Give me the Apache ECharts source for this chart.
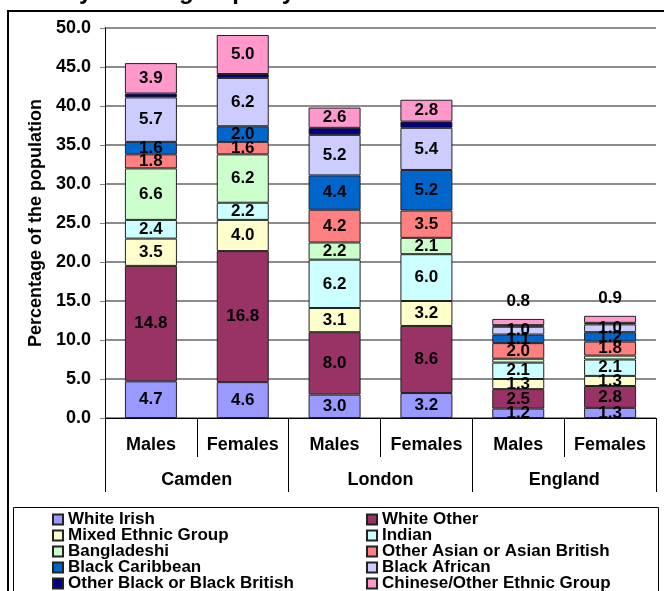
<!DOCTYPE html>
<html>
<head>
<meta charset="utf-8">
<title>Minority Ethnic groups by sex</title>
<script src="https://cdn.jsdelivr.net/npm/echarts@6/dist/echarts.min.js"></script>
<style>
html,body{margin:0;padding:0;background:#fff;}
#main{width:664px;height:591px;}
</style>
</head>
<body>
<div id="main"></div>
<script>
// categories
var sexes = ['Males', 'Females', 'Males', 'Females', 'Males', 'Females'];
var areas = ['Camden', 'London', 'England'];
var yTicks = {min: 0, max: 50, step: 5};

// series names, in stacking order
var groups = ['White Irish', 'White Other', 'Mixed Ethnic Group', 'Indian', 'Bangladeshi',
  'Other Asian or Asian British', 'Black Caribbean', 'Black African',
  'Other Black or Black British', 'Chinese/Other Ethnic Group'];

// values (% of population) - Camden M, Camden F, London M, London F, England M, England F
var whiteIrish   = [4.7, 4.6, 3.0, 3.2, 1.2, 1.3];
var whiteOther   = [14.8, 16.8, 8.0, 8.6, 2.5, 2.8];
var mixed        = [3.5, 4.0, 3.1, 3.2, 1.3, 1.3];
var indian       = [2.4, 2.2, 6.2, 6.0, 2.1, 2.1];
var bangladeshi  = [6.6, 6.2, 2.2, 2.1, 0.5, 0.5];
var otherAsian   = [1.8, 1.6, 4.2, 3.5, 2.0, 1.8];
var blackCarib   = [1.6, 2.0, 4.4, 5.2, 1.1, 1.2];
var blackAfrican = [5.7, 6.2, 5.2, 5.4, 1.0, 1.0];
var otherBlack   = [0.5, 0.5, 0.9, 0.8, 0.2, 0.2];
var chineseOther = [3.9, 5.0, 2.6, 2.8, 0.8, 0.9];

var values = [whiteIrish, whiteOther, mixed, indian, bangladeshi, otherAsian,
  blackCarib, blackAfrican, otherBlack, chineseOther];

var colors = ['#9999FF', '#993366', '#FFFFCC', '#CCFFFF', '#CCFFCC',
  '#FF8080', '#0066CC', '#CCCCFF', '#000080', '#FF99CC'];

var font = 'Arial, "Liberation Sans", sans-serif';

var series = [];
for (var i = 0; i < groups.length; i++) {
  var d = values[i].slice();
  if (i == 9) {
    // England labels sit above the bars
    d[4] = {value: d[4], label: {position: 'top', distance: 9}};
    d[5] = {value: d[5], label: {position: 'top', distance: 9}};
  }
  series.push({
    name: groups[i],
    type: 'bar',
    stack: 'all',
    barWidth: 52,
    data: d,
    itemStyle: {color: colors[i], borderColor: '#222', borderWidth: 1},
    label: {
      show: true,
      color: '#000',
      fontSize: 17,
      fontWeight: 'bold',
      fontFamily: font,
      formatter: function (p) {
        if (p.seriesName == 'Other Black or Black British' || p.value < 0.6) return '';
        return p.value.toFixed(1);
      }
    },
    emphasis: {disabled: true}
  });
}

var legendText = {fontSize: 17, fontWeight: 'bold', fontFamily: font, color: '#000', lineHeight: 16};

var option = {
  animation: false,
  title: {
    text: 'Minority Ethnic groups by sex',
    left: -1, top: -20, padding: 0,
    textStyle: {fontSize: 24, fontWeight: 'bold', fontFamily: font, color: '#000'}
  },
  graphic: [
    {type: 'rect', shape: {x: 8, y: 11, width: 680, height: 600},
      style: {fill: 'none', stroke: '#000', lineWidth: 2}, z: -10},
    {type: 'rect', shape: {x: 13.5, y: 507.5, width: 645, height: 100},
      style: {fill: 'none', stroke: '#000', lineWidth: 1}, z: -10}
  ],
  legend: [
    {
      orient: 'vertical', left: 52, top: 511, height: 120, itemGap: -1, padding: 0,
      itemWidth: 10, itemHeight: 10, icon: 'rect',
      data: groups.filter(function (g, k) { return k % 2 == 0; }),
      textStyle: legendText, selectedMode: false
    },
    {
      orient: 'vertical', left: 366, top: 511, height: 120, itemGap: -1, padding: 0,
      itemWidth: 10, itemHeight: 10, icon: 'rect',
      data: groups.filter(function (g, k) { return k % 2 == 1; }),
      textStyle: legendText, selectedMode: false
    }
  ],
  grid: {left: 105, right: 8, top: 28, bottom: 173},
  xAxis: [
    {
      type: 'category',
      data: sexes,
      position: 'bottom',
      axisLine: {show: true, lineStyle: {color: '#000', width: 1}},
      axisTick: {show: true, length: 39, interval: 0, lineStyle: {color: '#000'}},
      axisLabel: {interval: 0, margin: 18, color: '#000', fontSize: 18, fontWeight: 'bold', fontFamily: font}
    },
    {
      type: 'category',
      data: areas,
      position: 'bottom',
      offset: 0,
      axisLine: {show: false},
      axisTick: {show: true, length: 74, interval: 0, lineStyle: {color: '#000'}},
      axisLabel: {interval: 0, margin: 53, color: '#000', fontSize: 18, fontWeight: 'bold', fontFamily: font}
    }
  ],
  yAxis: {
    type: 'value',
    min: yTicks.min, max: yTicks.max, interval: yTicks.step,
    name: 'Percentage of the population',
    nameLocation: 'middle',
    nameGap: 59,
    nameTextStyle: {color: '#000', fontSize: 18, fontWeight: 'bold', fontFamily: font},
    axisLine: {show: true, lineStyle: {color: '#000', width: 1}},
    axisTick: {show: true, length: 5, lineStyle: {color: '#808080'}},
    axisLabel: {
      margin: 14, color: '#000', fontSize: 18, fontWeight: 'bold', fontFamily: font,
      formatter: function (v) { return v.toFixed(1); }
    },
    splitLine: {lineStyle: {color: '#8c8c8c', width: 2}}
  },
  series: series
};

var myChart = echarts.init(document.getElementById('main'));
myChart.setOption(option);
</script>
</body>
</html>
